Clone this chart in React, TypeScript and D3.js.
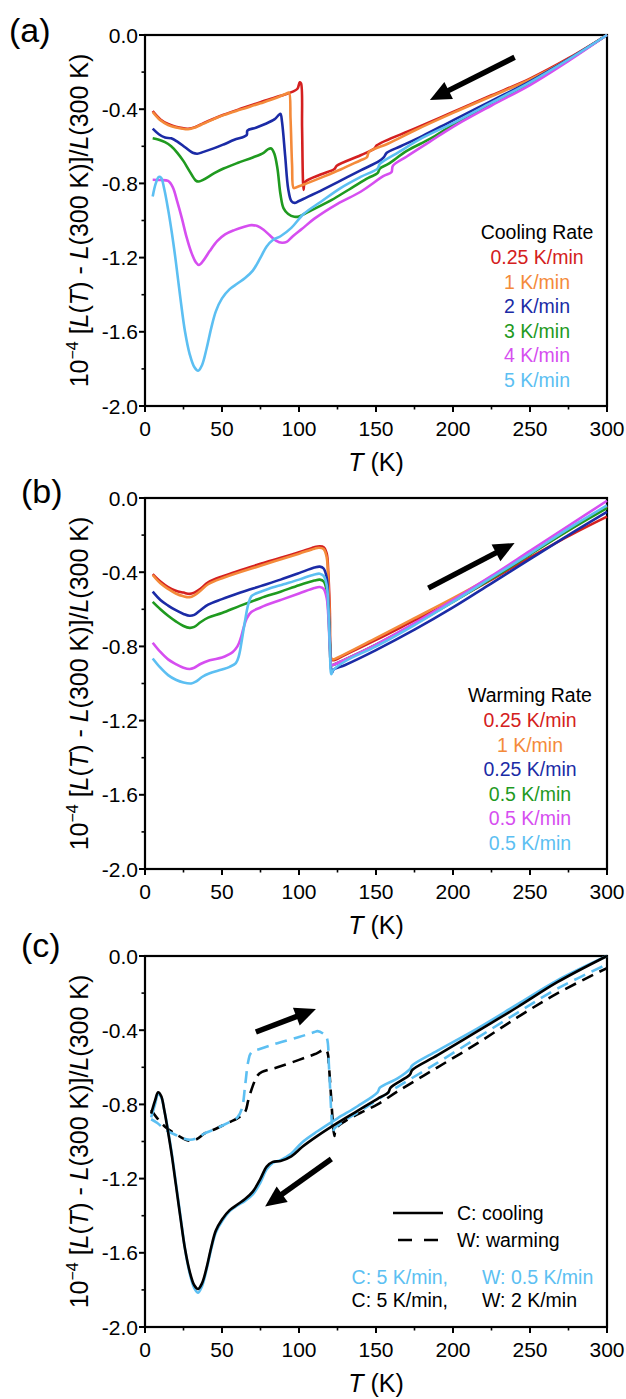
import React from 'react';
import * as d3 from 'd3';

type P = [number, number];

// ---------- Panel (a): cooling ----------
const aRed: P[] = [[5,-0.41],[10,-0.455],[15,-0.48],[20,-0.495],[28,-0.505],[33,-0.495],[38,-0.475],[45,-0.45],[51,-0.43],[62,-0.398],[75,-0.362],[88,-0.328],[96,-0.305],[99,-0.29],[100.5,-0.255],[101.3,-0.26],[102,-0.5],[102.6,-0.79],[103,-0.835],[103.5,-0.8],[105,-0.785],[114,-0.752],[123,-0.722],[124.5,-0.705],[140,-0.648],[149,-0.612],[150.5,-0.595],[175,-0.505],[200,-0.415],[225,-0.325],[250,-0.235],[275,-0.125],[300,0]];
const aOrange: P[] = [[5,-0.415],[10,-0.46],[15,-0.485],[20,-0.498],[28,-0.508],[33,-0.497],[38,-0.478],[45,-0.452],[51,-0.432],[62,-0.402],[75,-0.368],[85,-0.34],[92,-0.315],[93.5,-0.31],[94.5,-0.45],[95.5,-0.7],[96.5,-0.825],[98,-0.822],[105,-0.8],[114,-0.77],[127,-0.725],[140,-0.675],[144,-0.66],[145.5,-0.63],[158,-0.585],[175,-0.515],[200,-0.42],[225,-0.33],[250,-0.24],[275,-0.13],[300,0]];
const aBlue: P[] = [[5,-0.505],[9,-0.535],[13,-0.553],[17,-0.557],[21,-0.575],[26,-0.605],[31,-0.635],[34,-0.64],[38,-0.63],[45,-0.61],[51,-0.59],[58,-0.565],[66,-0.54],[66.5,-0.515],[72,-0.5],[78,-0.48],[84,-0.455],[87,-0.43],[88,-0.425],[89,-0.47],[91,-0.65],[93,-0.83],[95,-0.895],[97,-0.905],[100,-0.895],[105,-0.875],[114,-0.84],[127,-0.785],[140,-0.73],[152,-0.68],[155,-0.66],[157,-0.635],[166,-0.6],[180,-0.545],[200,-0.46],[225,-0.355],[250,-0.25],[275,-0.13],[300,0]];
const aGreen: P[] = [[5,-0.557],[9,-0.565],[13,-0.578],[17,-0.6],[21,-0.635],[25,-0.68],[29,-0.735],[33,-0.785],[35,-0.79],[38,-0.78],[45,-0.745],[51,-0.72],[60,-0.69],[70,-0.66],[77,-0.635],[80,-0.615],[82,-0.612],[84,-0.64],[86,-0.72],[88,-0.86],[90,-0.935],[93,-0.965],[97,-0.98],[100,-0.978],[108,-0.945],[121,-0.89],[134,-0.825],[145,-0.77],[151,-0.745],[152.5,-0.72],[158,-0.695],[170,-0.625],[185,-0.56],[200,-0.485],[225,-0.37],[250,-0.26],[275,-0.135],[300,0]];
const aMagenta: P[] = [[5,-0.78],[10,-0.782],[15,-0.787],[18,-0.82],[21,-0.9],[24,-0.99],[27,-1.09],[30,-1.17],[33,-1.225],[35,-1.24],[38,-1.215],[42,-1.165],[47,-1.11],[52,-1.075],[58,-1.052],[64,-1.035],[69,-1.025],[73,-1.03],[77,-1.05],[81,-1.08],[85,-1.108],[89,-1.12],[92,-1.115],[96,-1.085],[102,-1.045],[110,-0.99],[125,-0.91],[140,-0.845],[155,-0.76],[160,-0.74],[161,-0.705],[170,-0.655],[185,-0.575],[200,-0.495],[225,-0.38],[250,-0.27],[275,-0.14],[300,0]];
const aCyan: P[] = [[5,-0.87],[7,-0.8],[9,-0.765],[10.5,-0.77],[12.5,-0.83],[15,-0.94],[17.5,-1.07],[20,-1.22],[23,-1.42],[26,-1.6],[29,-1.72],[32,-1.79],[34.5,-1.81],[37,-1.78],[40,-1.69],[43,-1.58],[46,-1.49],[50,-1.42],[55,-1.37],[60,-1.34],[65,-1.31],[70,-1.27],[75,-1.2],[79,-1.14],[83,-1.105],[88,-1.085],[95,-1.04],[103,-0.965],[114,-0.9],[127,-0.825],[140,-0.765],[151,-0.72],[152.5,-0.695],[165,-0.63],[180,-0.555],[200,-0.475],[225,-0.365],[250,-0.255],[275,-0.132],[300,0]];

// ---------- Panel (b): warming ----------
const bRed: P[] = [[5,-0.41],[10,-0.45],[15,-0.48],[20,-0.5],[25,-0.51],[29,-0.517],[32,-0.51],[36,-0.49],[41,-0.455],[51,-0.42],[75,-0.355],[100,-0.293],[110,-0.265],[113.5,-0.26],[116,-0.265],[118,-0.3],[119,-0.4],[120,-0.6],[121,-0.87],[122,-0.875],[130,-0.845],[150,-0.765],[175,-0.66],[200,-0.555],[225,-0.44],[250,-0.32],[275,-0.205],[300,-0.1]];
const bOrange: P[] = [[5,-0.415],[10,-0.46],[15,-0.49],[20,-0.515],[25,-0.53],[29,-0.535],[32,-0.525],[36,-0.5],[41,-0.465],[51,-0.43],[75,-0.365],[100,-0.3],[110,-0.273],[113,-0.268],[116,-0.275],[118,-0.32],[119,-0.45],[120,-0.65],[121,-0.865],[122,-0.87],[130,-0.84],[150,-0.755],[175,-0.648],[200,-0.54],[225,-0.425],[250,-0.3],[275,-0.175],[300,-0.045]];
const bBlue: P[] = [[5,-0.505],[10,-0.55],[15,-0.58],[20,-0.605],[25,-0.625],[29,-0.635],[32,-0.63],[36,-0.605],[41,-0.575],[50,-0.545],[62,-0.51],[75,-0.475],[88,-0.44],[100,-0.405],[110,-0.375],[113.5,-0.37],[116,-0.38],[118,-0.43],[119,-0.55],[120,-0.75],[121,-0.93],[121.5,-0.94],[122.5,-0.925],[130,-0.9],[150,-0.82],[175,-0.71],[200,-0.59],[225,-0.46],[250,-0.33],[275,-0.2],[300,-0.075]];
const bGreen: P[] = [[5,-0.56],[10,-0.6],[15,-0.635],[20,-0.665],[25,-0.69],[29,-0.7],[32,-0.695],[36,-0.67],[41,-0.645],[50,-0.62],[62,-0.58],[75,-0.54],[88,-0.505],[100,-0.47],[110,-0.445],[113.5,-0.44],[116,-0.45],[118,-0.5],[119,-0.6],[120,-0.78],[121,-0.9],[122,-0.9],[130,-0.87],[150,-0.79],[175,-0.68],[200,-0.56],[225,-0.435],[250,-0.305],[275,-0.175],[300,-0.055]];
const bMagenta: P[] = [[5,-0.78],[10,-0.83],[15,-0.87],[20,-0.895],[25,-0.915],[29,-0.922],[32,-0.915],[36,-0.895],[42,-0.875],[50,-0.86],[54,-0.845],[57,-0.83],[60,-0.8],[62,-0.76],[64,-0.7],[66,-0.65],[69,-0.615],[75,-0.59],[88,-0.55],[100,-0.515],[110,-0.485],[113.5,-0.48],[116,-0.49],[118,-0.54],[119,-0.63],[120,-0.8],[121,-0.9],[122,-0.9],[130,-0.87],[150,-0.79],[175,-0.675],[200,-0.55],[225,-0.42],[250,-0.285],[275,-0.15],[300,-0.015]];
const bCyan: P[] = [[5,-0.865],[10,-0.915],[15,-0.955],[20,-0.98],[25,-0.995],[30,-1.0],[33,-0.99],[37,-0.965],[42,-0.945],[50,-0.925],[55,-0.91],[59,-0.89],[61,-0.85],[63,-0.76],[65,-0.66],[67,-0.575],[69,-0.53],[72,-0.515],[80,-0.49],[90,-0.465],[100,-0.44],[110,-0.412],[113.5,-0.408],[116,-0.42],[118,-0.47],[119,-0.58],[120,-0.8],[121,-0.95],[122,-0.93],[130,-0.88],[150,-0.8],[175,-0.685],[200,-0.56],[225,-0.43],[250,-0.3],[275,-0.165],[300,-0.04]];

// ---------- Panel (c): cooling vs warming ----------
const cCoolCyan: P[] = [[4,-0.87],[6.5,-0.8],[8.5,-0.745],[10.5,-0.76],[12.5,-0.83],[15,-0.94],[17.5,-1.07],[20,-1.22],[23,-1.4],[26,-1.58],[29,-1.71],[32,-1.79],[34.5,-1.815],[37,-1.78],[40,-1.69],[43,-1.58],[46,-1.49],[50,-1.43],[55,-1.375],[60,-1.345],[65,-1.32],[70,-1.285],[75,-1.22],[79,-1.15],[83,-1.115],[88,-1.1],[95,-1.065],[102,-1.005],[112,-0.945],[125,-0.875],[138,-0.81],[151,-0.735],[152.5,-0.71],[164,-0.66],[172,-0.61],[173.5,-0.59],[190,-0.51],[216,-0.39],[242,-0.26],[268,-0.13],[300,0]];
const cCoolBlack: P[] = [[4,-0.85],[6.5,-0.78],[8.5,-0.735],[10.5,-0.755],[12.5,-0.83],[15,-0.95],[17.5,-1.08],[20,-1.23],[23,-1.41],[26,-1.58],[29,-1.7],[32,-1.775],[34.5,-1.795],[37,-1.765],[40,-1.68],[43,-1.57],[46,-1.48],[50,-1.42],[55,-1.37],[60,-1.34],[65,-1.31],[70,-1.27],[75,-1.2],[79,-1.135],[83,-1.11],[88,-1.105],[95,-1.08],[102,-1.03],[112,-0.97],[125,-0.9],[138,-0.835],[151,-0.77],[158,-0.735],[159.5,-0.71],[172,-0.64],[173.5,-0.615],[190,-0.535],[216,-0.405],[242,-0.275],[268,-0.14],[300,0]];
const cWarmCyan: P[] = [[4,-0.88],[8,-0.9],[13,-0.935],[20,-0.965],[28,-0.99],[33,-0.985],[39,-0.955],[45,-0.935],[50,-0.915],[55,-0.895],[60,-0.87],[63,-0.82],[65,-0.7],[67,-0.57],[69,-0.52],[75,-0.5],[86,-0.47],[100,-0.437],[110,-0.41],[112,-0.405],[116,-0.42],[118,-0.44],[119.5,-0.6],[121,-0.85],[122,-0.95],[123,-0.93],[130,-0.885],[140,-0.835],[151,-0.775],[164,-0.705],[190,-0.575],[216,-0.44],[242,-0.305],[268,-0.175],[300,-0.045]];
const cWarmBlack: P[] = [[4,-0.83],[8,-0.875],[13,-0.92],[20,-0.96],[28,-0.995],[33,-0.99],[39,-0.955],[45,-0.935],[50,-0.915],[55,-0.895],[60,-0.875],[65,-0.84],[67,-0.78],[70,-0.7],[73,-0.645],[76,-0.625],[86,-0.6],[100,-0.56],[110,-0.53],[117,-0.505],[118.5,-0.52],[119.5,-0.6],[121,-0.78],[122,-0.9],[123,-0.97],[124,-0.93],[130,-0.89],[140,-0.845],[151,-0.8],[164,-0.73],[190,-0.6],[216,-0.47],[242,-0.33],[268,-0.2],[300,-0.065]];

// ---------- ticks and labels ----------
const xTicks = [0, 50, 100, 150, 200, 250, 300];
const xMinor = [25, 75, 125, 175, 225, 275];
const yTicks = [0, -0.4, -0.8, -1.2, -1.6, -2.0];
const yTickLabels = ['0.0', '-0.4', '-0.8', '-1.2', '-1.6', '-2.0'];
const yMinor = [-0.2, -0.6, -1.0, -1.4, -1.8];

const coolingLegend = ['0.25 K/min', '1 K/min', '2 K/min', '3 K/min', '4 K/min', '5 K/min'];
const warmingLegend = ['0.25 K/min', '1 K/min', '0.25 K/min', '0.5 K/min', '0.5 K/min', '0.5 K/min'];

const COL = {
  red: '#d42020',
  orange: '#f48a3a',
  blue: '#1b2ba6',
  green: '#1f9a1f',
  magenta: '#d64ef0',
  cyan: '#5cbff2',
  black: '#000000',
};
const sixColors = [COL.red, COL.orange, COL.blue, COL.green, COL.magenta, COL.cyan];

const FONT = "'Liberation Sans', Arial, Helvetica, sans-serif";
const LEFT = 145, RIGHT = 607, PH = 371;
const TOPS = [35, 498, 956];
const TICK_FS = 21;
const LEG_FS = 19.5;

const x = d3.scaleLinear().domain([0, 300]).range([LEFT, RIGHT]);

function yScale(top: number) {
  return d3.scaleLinear().domain([-2, 0]).range([top + PH, top]);
}

function Frame({ top }: { top: number }) {
  const y = yScale(top);
  const bottom = top + PH;
  return (
    <g>
      {xTicks.map((t) => (
        <g key={'xt' + t}>
          <line x1={x(t)} x2={x(t)} y1={bottom} y2={bottom + 6} stroke="#000" strokeWidth={2} />
          <text x={x(t)} y={bottom + 30} textAnchor="middle" fontSize={TICK_FS} fontFamily={FONT}>{t}</text>
        </g>
      ))}
      {xMinor.map((t) => (
        <line key={'xm' + t} x1={x(t)} x2={x(t)} y1={bottom} y2={bottom + 3.5} stroke="#000" strokeWidth={1.6} />
      ))}
      {yTicks.map((t, i) => (
        <g key={'yt' + t}>
          <line x1={LEFT - 6} x2={LEFT} y1={y(t)} y2={y(t)} stroke="#000" strokeWidth={2} />
          <text x={LEFT - 7} y={y(t) + 7.5} textAnchor="end" fontSize={TICK_FS} fontFamily={FONT}>{yTickLabels[i]}</text>
        </g>
      ))}
      {yMinor.map((t) => (
        <line key={'ym' + t} x1={LEFT - 3.5} x2={LEFT} y1={y(t)} y2={y(t)} stroke="#000" strokeWidth={1.6} />
      ))}
      <rect x={LEFT} y={top} width={RIGHT - LEFT} height={PH} fill="none" stroke="#000" strokeWidth={2.2} />
      <text transform={`translate(88,${top + PH / 2}) rotate(-90)`} textAnchor="middle" fontSize={25} fontFamily={FONT}>
        <tspan>10</tspan>
        <tspan dy={-10} fontSize={16}>−4</tspan>
        <tspan dy={10}> [</tspan>
        <tspan fontStyle="italic">L</tspan>
        <tspan>(</tspan>
        <tspan fontStyle="italic">T</tspan>
        <tspan>) - </tspan>
        <tspan fontStyle="italic">L</tspan>
        <tspan>(300 K)]/</tspan>
        <tspan fontStyle="italic">L</tspan>
        <tspan>(300 K)</tspan>
      </text>
      <text x={(LEFT + RIGHT) / 2} y={bottom + 65} textAnchor="middle" fontSize={25} fontFamily={FONT}>
        <tspan fontStyle="italic">T</tspan>
        <tspan> (K)</tspan>
      </text>
    </g>
  );
}

function Curve({ data, top, color, dash }: { data: P[]; top: number; color: string; dash?: string }) {
  const y = yScale(top);
  const gen = d3.line<P>().x((d) => x(d[0])).y((d) => y(d[1])).curve(d3.curveCatmullRom.alpha(0.5));
  return <path d={gen(data) || ''} fill="none" stroke={color} strokeWidth={2.6} strokeDasharray={dash} strokeLinejoin="round" />;
}

function Arrow({ from, to, top }: { from: P; to: P; top: number }) {
  const y = yScale(top);
  const x1 = x(from[0]), y1 = y(from[1]), x2 = x(to[0]), y2 = y(to[1]);
  const ang = Math.atan2(y2 - y1, x2 - x1);
  const hl = 21, hw = 9.5;
  const bx = x2 - hl * Math.cos(ang), by = y2 - hl * Math.sin(ang);
  const px = -Math.sin(ang), py = Math.cos(ang);
  const pts = `${x2},${y2} ${bx + hw * px},${by + hw * py} ${bx - hw * px},${by - hw * py}`;
  return (
    <g>
      <line x1={x1} y1={y1} x2={bx + 2 * Math.cos(ang)} y2={by + 2 * Math.sin(ang)} stroke="#000" strokeWidth={5.5} />
      <polygon points={pts} fill="#000" />
    </g>
  );
}

const aSeries = [aRed, aOrange, aBlue, aGreen, aMagenta, aCyan];
const bSeries = [bRed, bOrange, bBlue, bGreen, bMagenta, bCyan];

export default function App() {
  const [ta, tb, tc] = TOPS;
  return (
    <div style={{ position: 'absolute', left: 0, top: 0 }}>
      <svg width={626} height={1399} viewBox="0 0 626 1399" style={{ display: 'block', background: '#fff' }}>
        {/* Panel a */}
        <text x={9} y={42} fontSize={34} fontFamily={FONT}>(a)</text>
        <Frame top={ta} />
        {aSeries.map((s, i) => (
          <Curve key={'a' + i} data={s} top={ta} color={sixColors[i]} />
        ))}
        <Arrow from={[240, -0.12]} to={[185, -0.35]} top={ta} />
        <text x={537} y={239} textAnchor="middle" fontSize={LEG_FS} fontFamily={FONT}>Cooling Rate</text>
        {coolingLegend.map((l, i) => (
          <text key={'la' + i} x={537} y={264 + i * 24.5} textAnchor="middle" fontSize={LEG_FS} fontFamily={FONT} fill={sixColors[i]}>{l}</text>
        ))}

        {/* Panel b */}
        <text x={21} y={503} fontSize={34} fontFamily={FONT}>(b)</text>
        <Frame top={tb} />
        {bSeries.map((s, i) => (
          <Curve key={'b' + i} data={s} top={tb} color={sixColors[i]} />
        ))}
        <Arrow from={[184, -0.486]} to={[240, -0.243]} top={tb} />
        <text x={530} y={702} textAnchor="middle" fontSize={LEG_FS} fontFamily={FONT}>Warming Rate</text>
        {warmingLegend.map((l, i) => (
          <text key={'lb' + i} x={530} y={727 + i * 24.5} textAnchor="middle" fontSize={LEG_FS} fontFamily={FONT} fill={sixColors[i]}>{l}</text>
        ))}

        {/* Panel c */}
        <text x={21} y={957} fontSize={34} fontFamily={FONT}>(c)</text>
        <Frame top={tc} />
        <Curve data={cWarmBlack} top={tc} color={COL.black} dash="12 7" />
        <Curve data={cWarmCyan} top={tc} color={COL.cyan} dash="12 7" />
        <Curve data={cCoolCyan} top={tc} color={COL.cyan} />
        <Curve data={cCoolBlack} top={tc} color={COL.black} />
        <Arrow from={[72, -0.41]} to={[111, -0.286]} top={tc} />
        <Arrow from={[121, -1.094]} to={[78, -1.35]} top={tc} />
        <line x1={393} x2={443} y1={1213} y2={1213} stroke="#000" strokeWidth={2.6} />
        <text x={457} y={1220} fontSize={LEG_FS} fontFamily={FONT}>C: cooling</text>
        <line x1={398} x2={440} y1={1240} y2={1240} stroke="#000" strokeWidth={2.6} strokeDasharray="14 12" />
        <text x={457} y={1247} fontSize={LEG_FS} fontFamily={FONT}>W: warming</text>
        <text x={448} y={1284} textAnchor="end" fontSize={LEG_FS} fontFamily={FONT} fill={COL.cyan}>C: 5 K/min,</text>
        <text x={482} y={1284} fontSize={LEG_FS} fontFamily={FONT} fill={COL.cyan}>W: 0.5 K/min</text>
        <text x={448} y={1307} textAnchor="end" fontSize={LEG_FS} fontFamily={FONT} fill={COL.black}>C: 5 K/min,</text>
        <text x={482} y={1307} fontSize={LEG_FS} fontFamily={FONT} fill={COL.black}>W: 2 K/min</text>
      </svg>
    </div>
  );
}
